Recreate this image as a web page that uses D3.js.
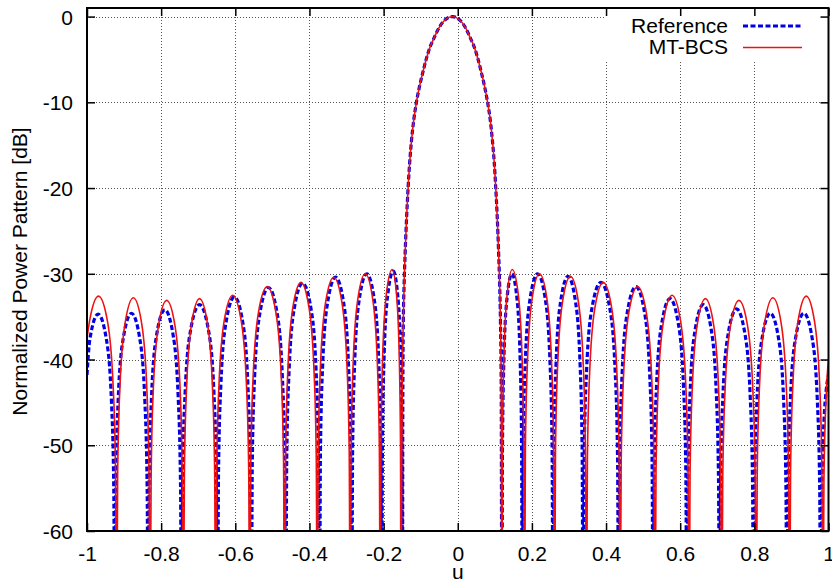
<!DOCTYPE html>
<html>
<head>
<meta charset="utf-8">
<script src="https://cdn.jsdelivr.net/npm/d3@7"></script>
<style>
html,body{margin:0;padding:0;background:#fff;}
svg{display:block;font-family:"Liberation Sans",Arial,Helvetica,sans-serif;}
</style>
</head>
<body>
<svg id="chart" width="832" height="584"></svg>
<script>
const xTickValues = [-1,-0.8,-0.6,-0.4,-0.2,0,0.2,0.4,0.6,0.8,1];
const xTickLabels = ["-1","-0.8","-0.6","-0.4","-0.2","0","0.2","0.4","0.6","0.8","1"];
const yTickValues = [0,-10,-20,-30,-40,-50,-60];
const yTickLabels = ["0","-10","-20","-30","-40","-50","-60"];
const seriesNames = ["Reference","MT-BCS"];

// [u, dB] (nulls fall below the -60 dB floor)
const referenceSeries = [
[-1,-41.8],[-0.9925,-37.7],[-0.970,-34.7],[-0.9475,-37.7],[-0.934,-44.9],[-0.9277,-55.2],
[-0.925,-75],[-0.9223,-55.1],[-0.916,-44.8],[-0.9025,-37.6],[-0.880,-34.6],[-0.8575,-37.6],[-0.844,-44.8],[-0.8377,-55.1],
[-0.835,-75],[-0.8323,-54.7],[-0.826,-44.4],[-0.8125,-37.2],[-0.790,-34.2],[-0.7675,-37.2],[-0.754,-44.4],[-0.7477,-54.7],
[-0.745,-75],[-0.7421,-54.1],[-0.7353,-43.8],[-0.7207,-36.6],[-0.6965,-33.6],[-0.6722,-36.6],[-0.6577,-43.8],[-0.6509,-54.1],
[-0.648,-75],[-0.6453,-53.2],[-0.6389,-42.9],[-0.6252,-35.7],[-0.6025,-32.7],[-0.5797,-35.7],[-0.5661,-42.9],[-0.5597,-53.2],
[-0.557,-75],[-0.5542,-52.1],[-0.5477,-41.8],[-0.5337,-34.6],[-0.5105,-31.6],[-0.4872,-34.6],[-0.4733,-41.8],[-0.4668,-52.1],
[-0.464,-75],[-0.4613,-51.6],[-0.4549,-41.3],[-0.4412,-34.1],[-0.4185,-31.1],[-0.3957,-34.1],[-0.3821,-41.3],[-0.3757,-51.6],
[-0.373,-75],[-0.3704,-50.9],[-0.3643,-40.6],[-0.3512,-33.4],[-0.3295,-30.4],[-0.3077,-33.4],[-0.2947,-40.6],[-0.2886,-50.9],
[-0.286,-75],[-0.2836,-50.5],[-0.2779,-40.2],[-0.2657,-33.0],[-0.2455,-30.0],[-0.2252,-33.0],[-0.2131,-40.2],[-0.2074,-50.5],
[-0.205,-75],[-0.2031,-50.2],[-0.1988,-39.9],[-0.1895,-32.7],[-0.174,-29.7],[-0.1615,-32.7],[-0.154,-39.9],[-0.1505,-50.2],
[-0.149,-75],[-0.1482,-45],[-0.1468,-35.5],[-0.1448,-31.5],[-0.1418,-27.5],[-0.1377,-23.2],[-0.1337,-19.8],[-0.1296,-17.0],
[-0.1246,-14.4],[-0.1185,-12.0],[-0.1115,-10.0],[-0.1034,-8.2],[-0.0953,-6.7],[-0.0852,-5.0],[-0.0751,-3.6],[-0.065,-2.6],
[-0.0499,-1.25],[-0.0347,-0.4],[-0.0145,0],[0.0053,-0.4],[0.0202,-1.25],[0.035,-2.6],[0.0449,-3.6],[0.0548,-5.0],
[0.0647,-6.7],[0.0726,-8.2],[0.0805,-10.0],[0.0875,-12.0],[0.0934,-14.4],[0.0984,-17.0],[0.1023,-19.8],[0.1063,-23.2],
[0.1102,-27.5],[0.1132,-31.5],[0.1152,-35.5],[0.1172,-43],
[0.119,-75],[0.1206,-50.5],[0.1244,-40.2],[0.1325,-33.0],[0.146,-30.0],[0.160,-33.0],[0.1684,-40.2],[0.1723,-50.5],
[0.174,-75],[0.1765,-50.5],[0.1823,-40.2],[0.1948,-33.0],[0.2155,-30.0],[0.2363,-33.0],[0.2487,-40.2],[0.2545,-50.5],
[0.257,-75],[0.2594,-50.8],[0.2651,-40.5],[0.2773,-33.3],[0.2975,-30.3],[0.3178,-33.3],[0.3299,-40.5],[0.3356,-50.8],
[0.338,-75],[0.3409,-51.5],[0.3476,-41.2],[0.362,-34.0],[0.386,-31.0],[0.410,-34.0],[0.4244,-41.2],[0.4311,-51.5],
[0.434,-75],[0.4368,-52.0],[0.4433,-41.7],[0.4573,-34.5],[0.4805,-31.5],[0.5038,-34.5],[0.5177,-41.7],[0.5242,-52.0],
[0.527,-75],[0.5297,-53.4],[0.5361,-43.1],[0.5498,-35.9],[0.5725,-32.9],[0.5953,-35.9],[0.6089,-43.1],[0.6153,-53.4],
[0.618,-75],[0.6206,-54.1],[0.6268,-43.8],[0.640,-36.6],[0.662,-33.6],[0.684,-36.6],[0.6972,-43.8],[0.7034,-54.1],
[0.706,-75],[0.7088,-54.6],[0.7152,-44.3],[0.729,-37.1],[0.752,-34.1],[0.775,-37.1],[0.7888,-44.3],[0.7952,-54.6],
[0.798,-75],[0.8007,-55.1],[0.807,-44.8],[0.8205,-37.6],[0.843,-34.6],[0.8655,-37.6],[0.879,-44.8],[0.8853,-55.1],
[0.888,-75],[0.8907,-55.1],[0.8971,-44.8],[0.9108,-37.6],[0.9335,-34.6],[0.9563,-37.6],[0.9699,-44.8],[0.9763,-55.1],
[0.979,-75],[0.9817,-56],[0.988,-47],[0.994,-43.5],[1.0,-41.8]
];

const mtbcsSeries = [
[-1,-37.5],[-0.9935,-35.6],[-0.969,-32.6],[-0.9445,-35.6],[-0.9298,-42.8],[-0.9229,-53.1],
[-0.920,-75],[-0.9173,-53.3],[-0.911,-43.0],[-0.8975,-35.8],[-0.875,-32.8],[-0.8525,-35.8],[-0.839,-43.0],[-0.8327,-53.3],
[-0.830,-75],[-0.827,-53.6],[-0.821,-43.3],[-0.8075,-36.1],[-0.785,-33.1],[-0.7625,-36.1],[-0.749,-43.3],[-0.743,-53.6],
[-0.740,-75],[-0.7374,-53.4],[-0.7313,-43.1],[-0.7182,-35.9],[-0.6965,-32.9],[-0.6747,-35.9],[-0.6617,-43.1],[-0.6556,-53.4],
[-0.653,-75],[-0.6502,-53.0],[-0.6438,-42.7],[-0.630,-35.5],[-0.607,-32.5],[-0.584,-35.5],[-0.5702,-42.7],[-0.5638,-53.0],
[-0.561,-75],[-0.5582,-52.0],[-0.5516,-41.7],[-0.5375,-34.5],[-0.514,-31.5],[-0.4905,-34.5],[-0.4764,-41.7],[-0.4698,-52.0],
[-0.467,-75],[-0.4644,-51.5],[-0.4582,-41.2],[-0.445,-34.0],[-0.423,-31.0],[-0.401,-34.0],[-0.3878,-41.2],[-0.3816,-51.5],
[-0.379,-75],[-0.3763,-50.9],[-0.3701,-40.6],[-0.3567,-33.4],[-0.3345,-30.4],[-0.3122,-33.4],[-0.2989,-40.6],[-0.2927,-50.9],
[-0.290,-75],[-0.2876,-50.5],[-0.2819,-40.2],[-0.2697,-33.0],[-0.2495,-30.0],[-0.2292,-33.0],[-0.2171,-40.2],[-0.2114,-50.5],
[-0.209,-75],[-0.2071,-50.0],[-0.2026,-39.7],[-0.193,-32.5],[-0.177,-29.5],[-0.165,-32.5],[-0.1578,-39.7],[-0.1544,-50.0],
[-0.153,-75],[-0.1512,-52],[-0.1488,-40],[-0.1468,-35.5],[-0.1448,-31.5],[-0.1418,-27.5],[-0.1377,-23.2],[-0.1337,-19.8],[-0.1296,-17.0],
[-0.1246,-14.4],[-0.1185,-12.0],[-0.1115,-10.0],[-0.1034,-8.2],[-0.0953,-6.7],[-0.0852,-5.0],[-0.0751,-3.6],[-0.065,-2.6],
[-0.0499,-1.25],[-0.0347,-0.4],[-0.0145,0],[0.0053,-0.4],[0.0202,-1.25],[0.035,-2.6],[0.0449,-3.6],[0.0548,-5.0],
[0.0647,-6.7],[0.0726,-8.2],[0.0805,-10.0],[0.0875,-12.0],[0.0934,-14.4],[0.0984,-17.0],[0.1023,-19.8],[0.1063,-23.2],
[0.1102,-27.5],[0.1132,-31.5],[0.1152,-35.5],[0.1172,-43],
[0.119,-75],[0.1207,-50.0],[0.1246,-39.7],[0.133,-32.5],[0.147,-29.5],[0.1635,-32.5],[0.1734,-39.7],[0.178,-50.0],
[0.180,-75],[0.1824,-50.5],[0.1881,-40.2],[0.2003,-33.0],[0.2205,-30.0],[0.2408,-33.0],[0.2529,-40.2],[0.2586,-50.5],
[0.261,-75],[0.2636,-50.8],[0.2696,-40.5],[0.2825,-33.3],[0.304,-30.3],[0.3255,-33.3],[0.3384,-40.5],[0.3444,-50.8],
[0.347,-75],[0.3497,-51.5],[0.3561,-41.2],[0.3698,-34.0],[0.3925,-31.0],[0.4153,-34.0],[0.4289,-41.2],[0.4353,-51.5],
[0.438,-75],[0.4408,-52.0],[0.4474,-41.7],[0.4615,-34.5],[0.485,-31.5],[0.5085,-34.5],[0.5226,-41.7],[0.5292,-52.0],
[0.532,-75],[0.5348,-53.0],[0.5412,-42.7],[0.555,-35.5],[0.578,-32.5],[0.601,-35.5],[0.6148,-42.7],[0.6212,-53.0],
[0.624,-75],[0.6266,-53.4],[0.6328,-43.1],[0.646,-35.9],[0.668,-32.9],[0.690,-35.9],[0.7032,-43.1],[0.7094,-53.4],
[0.712,-75],[0.7148,-53.6],[0.7213,-43.3],[0.7353,-36.1],[0.7585,-33.1],[0.7818,-36.1],[0.7957,-43.3],[0.8022,-53.6],
[0.805,-75],[0.8077,-53.3],[0.814,-43.0],[0.8275,-35.8],[0.850,-32.8],[0.8725,-35.8],[0.886,-43.0],[0.8923,-53.3],
[0.895,-75],[0.8977,-53.1],[0.904,-42.8],[0.9175,-35.6],[0.940,-32.6],[0.9625,-35.6],[0.976,-42.8],[0.9823,-53.1],
[0.985,-75],[0.9877,-54],[0.994,-44],[1.0,-40]
];

const svg = d3.select("#chart");
const L = 87, R = 828.5, T = 8, B = 531;
const x = d3.scaleLinear().domain([-1, 1]).range([L, R]);
const y = d3.scaleLinear().domain([-60, 1]).range([B, T]);
const FS = 21;

svg.append("rect").attr("width", 832).attr("height", 584).attr("fill", "#fff");

// grid
const grid = svg.append("g");
grid.selectAll("line.gx").data(xTickValues.slice(1, -1)).join("line")
  .attr("x1", d => Math.round(x(d)) + 0.5).attr("x2", d => Math.round(x(d)) + 0.5)
  .attr("y1", T).attr("y2", B);
grid.selectAll("line.gy").data(yTickValues.slice(0, -1)).join("line")
  .attr("x1", L).attr("x2", R)
  .attr("y1", d => Math.round(y(d)) + 0.5).attr("y2", d => Math.round(y(d)) + 0.5);
grid.selectAll("line").attr("stroke", "#555").attr("stroke-width", 1).attr("stroke-dasharray", "1,2");

// legend background (hides grid behind key)
svg.append("rect").attr("x", 606).attr("y", T + 1).attr("width", 222).attr("height", 51).attr("fill", "#fff");

// curves
svg.append("clipPath").attr("id", "plotclip").append("rect")
  .attr("x", L).attr("y", T).attr("width", R - L).attr("height", B - T);
const line = d3.line().x(d => x(d[0])).y(d => y(d[1])).curve(d3.curveMonotoneX);
const curves = svg.append("g").attr("clip-path", "url(#plotclip)");
curves.append("path").datum(referenceSeries).attr("d", line)
  .attr("fill", "none").attr("stroke", "#0000e6").attr("stroke-width", 3.2)
  .attr("stroke-dasharray", "5,2.5").attr("stroke-linejoin", "round");
curves.append("path").datum(mtbcsSeries).attr("d", line)
  .attr("fill", "none").attr("stroke", "#ee1111").attr("stroke-width", 1.6)
  .attr("stroke-linejoin", "round");

// axes (ticks inward, mirrored)
const tk = 8;
const styleAxis = g => { g.select(".domain").remove(); g.selectAll(".tick line").attr("stroke", "#000").attr("stroke-width", 1.5); };
const xb = svg.append("g").attr("transform", `translate(0,${B})`)
  .call(d3.axisBottom(x).tickValues(xTickValues).tickFormat((d, i) => xTickLabels[i]).tickSize(-tk).tickPadding(0));
xb.call(styleAxis);
xb.selectAll(".tick text").attr("y", 30).attr("dy", 0).attr("font-size", FS).attr("fill", "#000").attr("font-family", "Liberation Sans, Arial, sans-serif");
svg.append("g").attr("transform", `translate(0,${T})`)
  .call(d3.axisTop(x).tickValues(xTickValues).tickFormat("").tickSize(-tk)).call(styleAxis);
const yl = svg.append("g").attr("transform", `translate(${L},0)`)
  .call(d3.axisLeft(y).tickValues(yTickValues).tickFormat((d, i) => yTickLabels[i]).tickSize(-tk).tickPadding(0));
yl.call(styleAxis);
yl.selectAll(".tick text").attr("x", -14).attr("dy", "0.36em").attr("font-size", FS).attr("fill", "#000").attr("font-family", "Liberation Sans, Arial, sans-serif");
svg.append("g").attr("transform", `translate(${R},0)`)
  .call(d3.axisRight(y).tickValues(yTickValues).tickFormat("").tickSize(-tk)).call(styleAxis);

// border
svg.append("rect").attr("x", L).attr("y", T).attr("width", R - L).attr("height", B - T)
  .attr("fill", "none").attr("stroke", "#000").attr("stroke-width", 2);

// axis titles
svg.append("text").attr("x", (L + R) / 2).attr("y", 579).attr("text-anchor", "middle")
  .attr("font-size", FS).text("u");
svg.append("text").attr("transform", `translate(27,${(T + B) / 2 + 2}) rotate(-90)`)
  .attr("text-anchor", "middle").attr("font-size", FS).text("Normalized Power Pattern [dB]");

// legend
const leg = svg.append("g");
const legRows = [
  {name: seriesNames[0], yy: 33.3, ly: 26, stroke: "#0000e6", w: 3.2, dash: "5,2.5"},
  {name: seriesNames[1], yy: 54.3, ly: 47.5, stroke: "#ee1111", w: 1.6, dash: null}
];
legRows.forEach(r => {
  leg.append("text").attr("x", 728).attr("y", r.yy).attr("text-anchor", "end").attr("font-size", FS).text(r.name);
  const ln = leg.append("line").attr("x1", 743).attr("x2", 802).attr("y1", r.ly).attr("y2", r.ly)
    .attr("stroke", r.stroke).attr("stroke-width", r.w);
  if (r.dash) ln.attr("stroke-dasharray", r.dash);
});
</script>
</body>
</html>
